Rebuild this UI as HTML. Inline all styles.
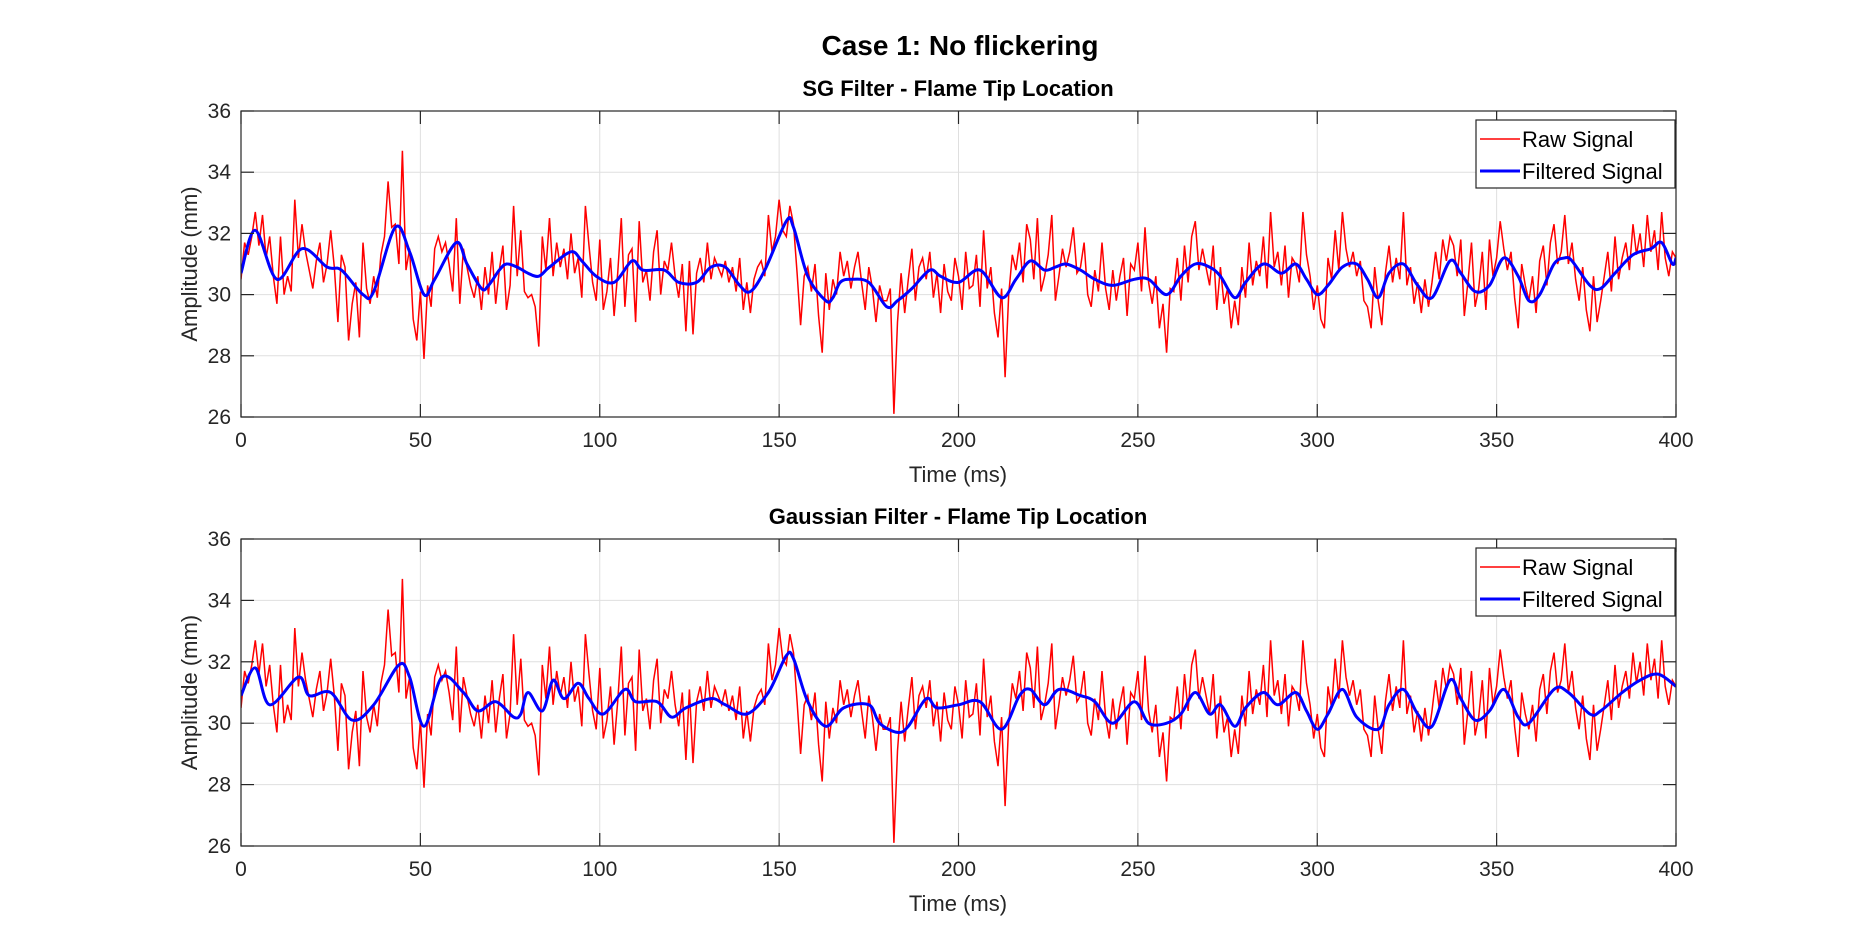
<!DOCTYPE html>
<html><head><meta charset="utf-8"><style>
html,body{margin:0;padding:0;background:#fff}
svg{display:block;font-family:"Liberation Sans",sans-serif}
</style></head><body>
<svg id="fig" width="1852" height="942" viewBox="0 0 1852 942">
<rect width="1852" height="942" fill="#fff"/>
<text x="960" y="55" text-anchor="middle" font-size="28" font-weight="bold" fill="#000">Case 1: No flickering</text>
</svg>
<script>
const timeTicks=[0,50,100,150,200,250,300,350,400];
const ampTicks=[26,28,30,32,34,36];
const raw=[30.5,31.7,31.3,31.9,32.7,31.6,32.6,31.2,31.9,30.6,
29.7,31.9,30.0,30.6,30.1,33.1,31.2,32.3,31.4,30.8,
30.2,31.1,31.7,30.4,31.0,32.1,30.9,29.1,31.3,30.9,
28.5,29.7,30.4,28.6,31.7,30.2,29.7,30.6,29.9,31.3,
31.9,33.7,32.2,32.3,31.0,34.7,30.8,31.5,29.2,28.5,
30.1,27.9,30.3,29.6,31.5,31.9,31.4,31.7,31.0,30.1,
32.5,29.7,31.5,30.9,30.3,29.9,30.6,29.5,30.9,30.0,
31.4,29.7,30.8,31.6,29.5,30.3,32.9,30.6,32.1,30.1,
29.9,30.0,29.6,28.3,31.9,30.8,32.5,30.6,31.7,30.9,
31.5,30.5,32.0,30.7,31.2,29.9,32.9,31.6,30.4,29.8,
31.8,29.5,30.1,31.2,29.3,30.7,32.5,29.6,31.3,31.5,
29.1,32.4,30.4,30.8,29.8,31.4,32.1,30.0,31.1,30.8,
31.7,30.6,29.9,31.0,28.8,31.1,28.7,30.7,31.2,30.4,
31.7,30.5,31.2,30.9,30.6,31.1,30.4,30.9,30.1,31.2,
29.5,30.4,29.4,30.5,30.9,31.1,30.6,32.6,31.4,31.9,
33.1,32.1,31.9,32.9,32.3,30.7,29.0,30.6,30.9,30.1,
31.0,29.3,28.1,30.7,29.5,30.5,30.0,31.4,30.6,31.1,
30.2,30.9,31.4,30.4,29.5,30.9,30.2,29.1,30.3,29.8,
29.8,30.2,26.1,29.1,30.7,29.4,30.5,31.5,29.8,30.9,
31.2,30.5,31.4,29.9,30.7,29.4,31.0,30.1,29.8,31.2,
30.6,29.5,31.4,30.2,30.3,31.3,29.6,32.1,30.2,30.9,
29.4,28.6,30.2,27.3,30.0,31.3,30.8,31.7,30.4,32.3,
31.8,30.5,32.5,30.1,30.6,31.3,32.6,29.8,30.6,31.5,
30.9,31.4,32.2,30.7,30.9,31.7,30.0,29.6,30.8,30.1,
31.7,30.2,29.5,30.8,29.8,30.6,31.2,29.3,31.0,30.8,
31.7,30.1,32.2,30.4,29.7,30.6,28.9,29.7,28.1,30.2,
30.1,31.2,29.8,31.6,30.4,31.9,32.4,30.8,31.5,30.9,
30.3,31.6,29.5,30.9,29.7,30.2,28.9,29.8,29.0,30.9,
29.9,31.7,30.3,31.1,30.6,31.9,30.2,32.7,30.9,31.4,
30.3,31.6,29.9,31.2,31.0,30.4,32.7,31.3,30.6,29.5,
30.3,29.2,28.9,31.2,30.5,32.1,30.8,32.7,31.5,30.9,
31.4,30.6,31.1,29.8,29.6,28.9,30.9,29.8,29.0,30.7,
31.6,30.4,31.2,30.5,32.7,30.3,30.9,29.7,30.4,29.4,
30.5,29.6,30.4,31.4,30.5,31.8,31.1,31.9,31.6,30.6,
31.8,29.3,30.4,31.7,29.6,30.2,31.4,29.5,31.8,30.6,
31.2,32.4,31.5,30.8,31.4,29.9,28.9,31.0,30.3,29.8,
30.6,29.4,31.1,31.6,30.3,31.7,32.3,31.0,31.4,32.6,
31.0,31.7,30.5,29.8,30.9,29.5,28.8,30.6,29.1,29.8,
30.6,31.4,30.1,31.9,30.5,31.2,31.7,30.8,32.3,31.3,
32.0,30.9,32.6,31.4,32.1,30.8,32.7,31.2,30.6,31.4,
31.2];
const sgT=[0,4,10,17,24,28,34,37,43,47,51,54,60,63,67,69,72,74,77,80,83,86,92,95,99,104,109,112,118,122,127,131,135,139,142,146,152,154,158,163,165,167,170,175,180,183,187,192,195,200,206,212,216,220,224,227,230,234,238,243,249,253,258,262,266,270,273,277,280,285,290,294,297,300,303,307,311,314,317,320,324,328,332,337,340,344,348,352,356,359,362,366,369,371,376,379,383,388,393,396,399,400];
const sgV=[30.7,32.1,30.5,31.5,30.9,30.8,30.0,30.1,32.2,31.4,30.0,30.5,31.7,31.0,30.2,30.3,30.8,31.0,30.9,30.7,30.6,30.9,31.4,31.1,30.6,30.4,31.1,30.8,30.8,30.4,30.4,30.9,30.9,30.3,30.1,30.8,32.4,32.2,30.6,29.8,29.9,30.4,30.5,30.4,29.6,29.8,30.2,30.8,30.6,30.4,30.8,29.9,30.5,31.1,30.8,30.9,31.0,30.8,30.5,30.3,30.5,30.5,30.0,30.6,31.0,30.9,30.6,29.9,30.4,31.0,30.7,31.0,30.5,30.0,30.3,30.9,31.0,30.5,29.9,30.7,31.0,30.3,29.9,31.1,30.7,30.1,30.3,31.2,30.6,29.8,30.0,31.0,31.2,31.1,30.3,30.2,30.7,31.3,31.5,31.7,31.0,31.2];
const gaT=[0,4,8,16,19,25,31,37,44,47,51,56,62,66,71,76,78,80,84,87,90,94,97,101,107,110,116,120,124,131,135,141,147,152,154,158,163,168,175,178,183,186,191,194,200,206,212,217,220,224,228,234,238,243,249,253,258,262,266,270,273,277,280,285,289,294,297,300,303,307,311,317,320,324,328,332,337,340,344,348,352,356,359,366,370,376,379,385,390,395,400];
const gaV=[30.9,31.8,30.6,31.5,30.9,31.0,30.1,30.6,31.9,31.5,29.9,31.5,31.0,30.4,30.7,30.2,30.3,31.0,30.4,31.4,30.8,31.3,30.8,30.3,31.1,30.7,30.7,30.2,30.5,30.8,30.6,30.3,31.0,32.2,32.1,30.7,29.9,30.5,30.6,30.0,29.7,29.9,30.8,30.5,30.6,30.7,29.8,30.9,31.1,30.6,31.1,30.9,30.7,30.0,30.7,30.0,30.0,30.3,31.0,30.3,30.6,29.9,30.5,31.0,30.6,31.0,30.4,29.8,30.3,31.1,30.2,29.8,30.6,31.1,30.3,29.9,31.4,30.8,30.1,30.4,31.1,30.2,30.0,31.1,31.0,30.3,30.4,31.0,31.4,31.6,31.2];

const NS="http://www.w3.org/2000/svg";
const svg=document.getElementById('fig');
function mk(tag,attrs,parent){const e=document.createElementNS(NS,tag);for(const k in attrs)e.setAttribute(k,attrs[k]);(parent||svg).appendChild(e);return e;}
function smoothPath(pts){let d='M'+pts[0][0].toFixed(1)+','+pts[0][1].toFixed(1);
 for(let i=0;i<pts.length-1;i++){const p0=pts[Math.max(0,i-1)],p1=pts[i],p2=pts[i+1],p3=pts[Math.min(pts.length-1,i+2)];
  const c1x=p1[0]+(p2[0]-p0[0])/6,c1y=p1[1]+(p2[1]-p0[1])/6,c2x=p2[0]-(p3[0]-p1[0])/6,c2y=p2[1]-(p3[1]-p1[1])/6;
  d+=' C'+c1x.toFixed(1)+','+c1y.toFixed(1)+' '+c2x.toFixed(1)+','+c2y.toFixed(1)+' '+p2[0].toFixed(1)+','+p2[1].toFixed(1);}
 return d;}
function panel(top,bottom,title,fT,fV,prefix){
 const L=241,R=1676;
 const xs=t=>L+(t-0)/(400-0)*(R-L);
 const ys=v=>bottom-(v-26)/(36-26)*(bottom-top);
 const g=mk('g',{});
 
 
 const grid=mk('g',{stroke:'#dfdfdf','stroke-width':1},g);
 
 
 timeTicks.forEach(t=>{mk('line',{x1:xs(t),x2:xs(t),y1:top,y2:bottom},grid);});
 ampTicks.forEach(v=>{mk('line',{x1:L,x2:R,y1:ys(v),y2:ys(v)},grid);});
 const clipId=prefix+'-clip';
 const cp=mk('clipPath',{id:clipId},g);mk('rect',{x:L,y:top,width:R-L,height:bottom-top},cp);
 const rp=raw.map((v,i)=>xs(i).toFixed(1)+','+ys(v).toFixed(1)).join(' ');
 const rl=mk('polyline',{points:rp,fill:'none',stroke:'#ff0000','stroke-width':1.5,'clip-path':'url(#'+clipId+')'},g);
 
 
 const fl=mk('path',{d:smoothPath(fT.map((t,i)=>[xs(t),ys(fV[i])])),fill:'none',stroke:'#0000ff','stroke-width':3,'stroke-linejoin':'round','clip-path':'url(#'+clipId+')'},g);
 
 
 const ax=mk('g',{stroke:'#262626','stroke-width':1.2,fill:'none'},g);
 
 
 mk('rect',{x:L,y:top,width:R-L,height:bottom-top},ax);
 timeTicks.forEach(t=>{mk('line',{x1:xs(t),x2:xs(t),y1:bottom,y2:bottom-13},ax);mk('line',{x1:xs(t),x2:xs(t),y1:top,y2:top+13},ax);
  const tx=mk('text',{x:xs(t),y:bottom+30,'text-anchor':'middle','font-size':21,fill:'#262626',stroke:'none'},g);tx.textContent=t;
  
  });
 ampTicks.forEach(v=>{mk('line',{x1:L,x2:L+13,y1:ys(v),y2:ys(v)},ax);mk('line',{x1:R,x2:R-13,y1:ys(v),y2:ys(v)},ax);
  const tx=mk('text',{x:L-10,y:ys(v)+7,'text-anchor':'end','font-size':21,fill:'#262626',stroke:'none'},g);tx.textContent=v;
  
  });
 const tt=mk('text',{x:958,y:top-15,'text-anchor':'middle','font-size':22,'font-weight':'bold',fill:'#000'},g);tt.textContent=title;
 
 
 const xl=mk('text',{x:958,y:bottom+65,'text-anchor':'middle','font-size':22,fill:'#262626'},g);xl.textContent='Time (ms)';
 
 
 const cy=(top+bottom)/2;
 const yl=mk('text',{x:197,y:cy,'text-anchor':'middle','font-size':22,fill:'#262626',transform:'rotate(-90 197 '+cy+')'},g);yl.textContent='Amplitude (mm)';
 
 
 const lg=mk('g',{},g);
 
 
 const ly=top+9;
 mk('rect',{x:1476,y:ly,width:199,height:68,fill:'#fff',stroke:'#262626','stroke-width':1.2},lg);
 mk('line',{x1:1480,x2:1520,y1:ly+19,y2:ly+19,stroke:'#ff0000','stroke-width':1.5},lg);
 mk('line',{x1:1480,x2:1520,y1:ly+51,y2:ly+51,stroke:'#0000ff','stroke-width':3},lg);
 const l1=mk('text',{x:1522,y:ly+27,'font-size':22,fill:'#000'},lg);l1.textContent='Raw Signal';
 
 
 const l2=mk('text',{x:1522,y:ly+59,'font-size':22,fill:'#000'},lg);l2.textContent='Filtered Signal';
 
 
}
panel(111,417,'SG Filter - Flame Tip Location',sgT,sgV,'sg');
panel(539,846,'Gaussian Filter - Flame Tip Location',gaT,gaV,'gauss');
</script>
</body></html>
